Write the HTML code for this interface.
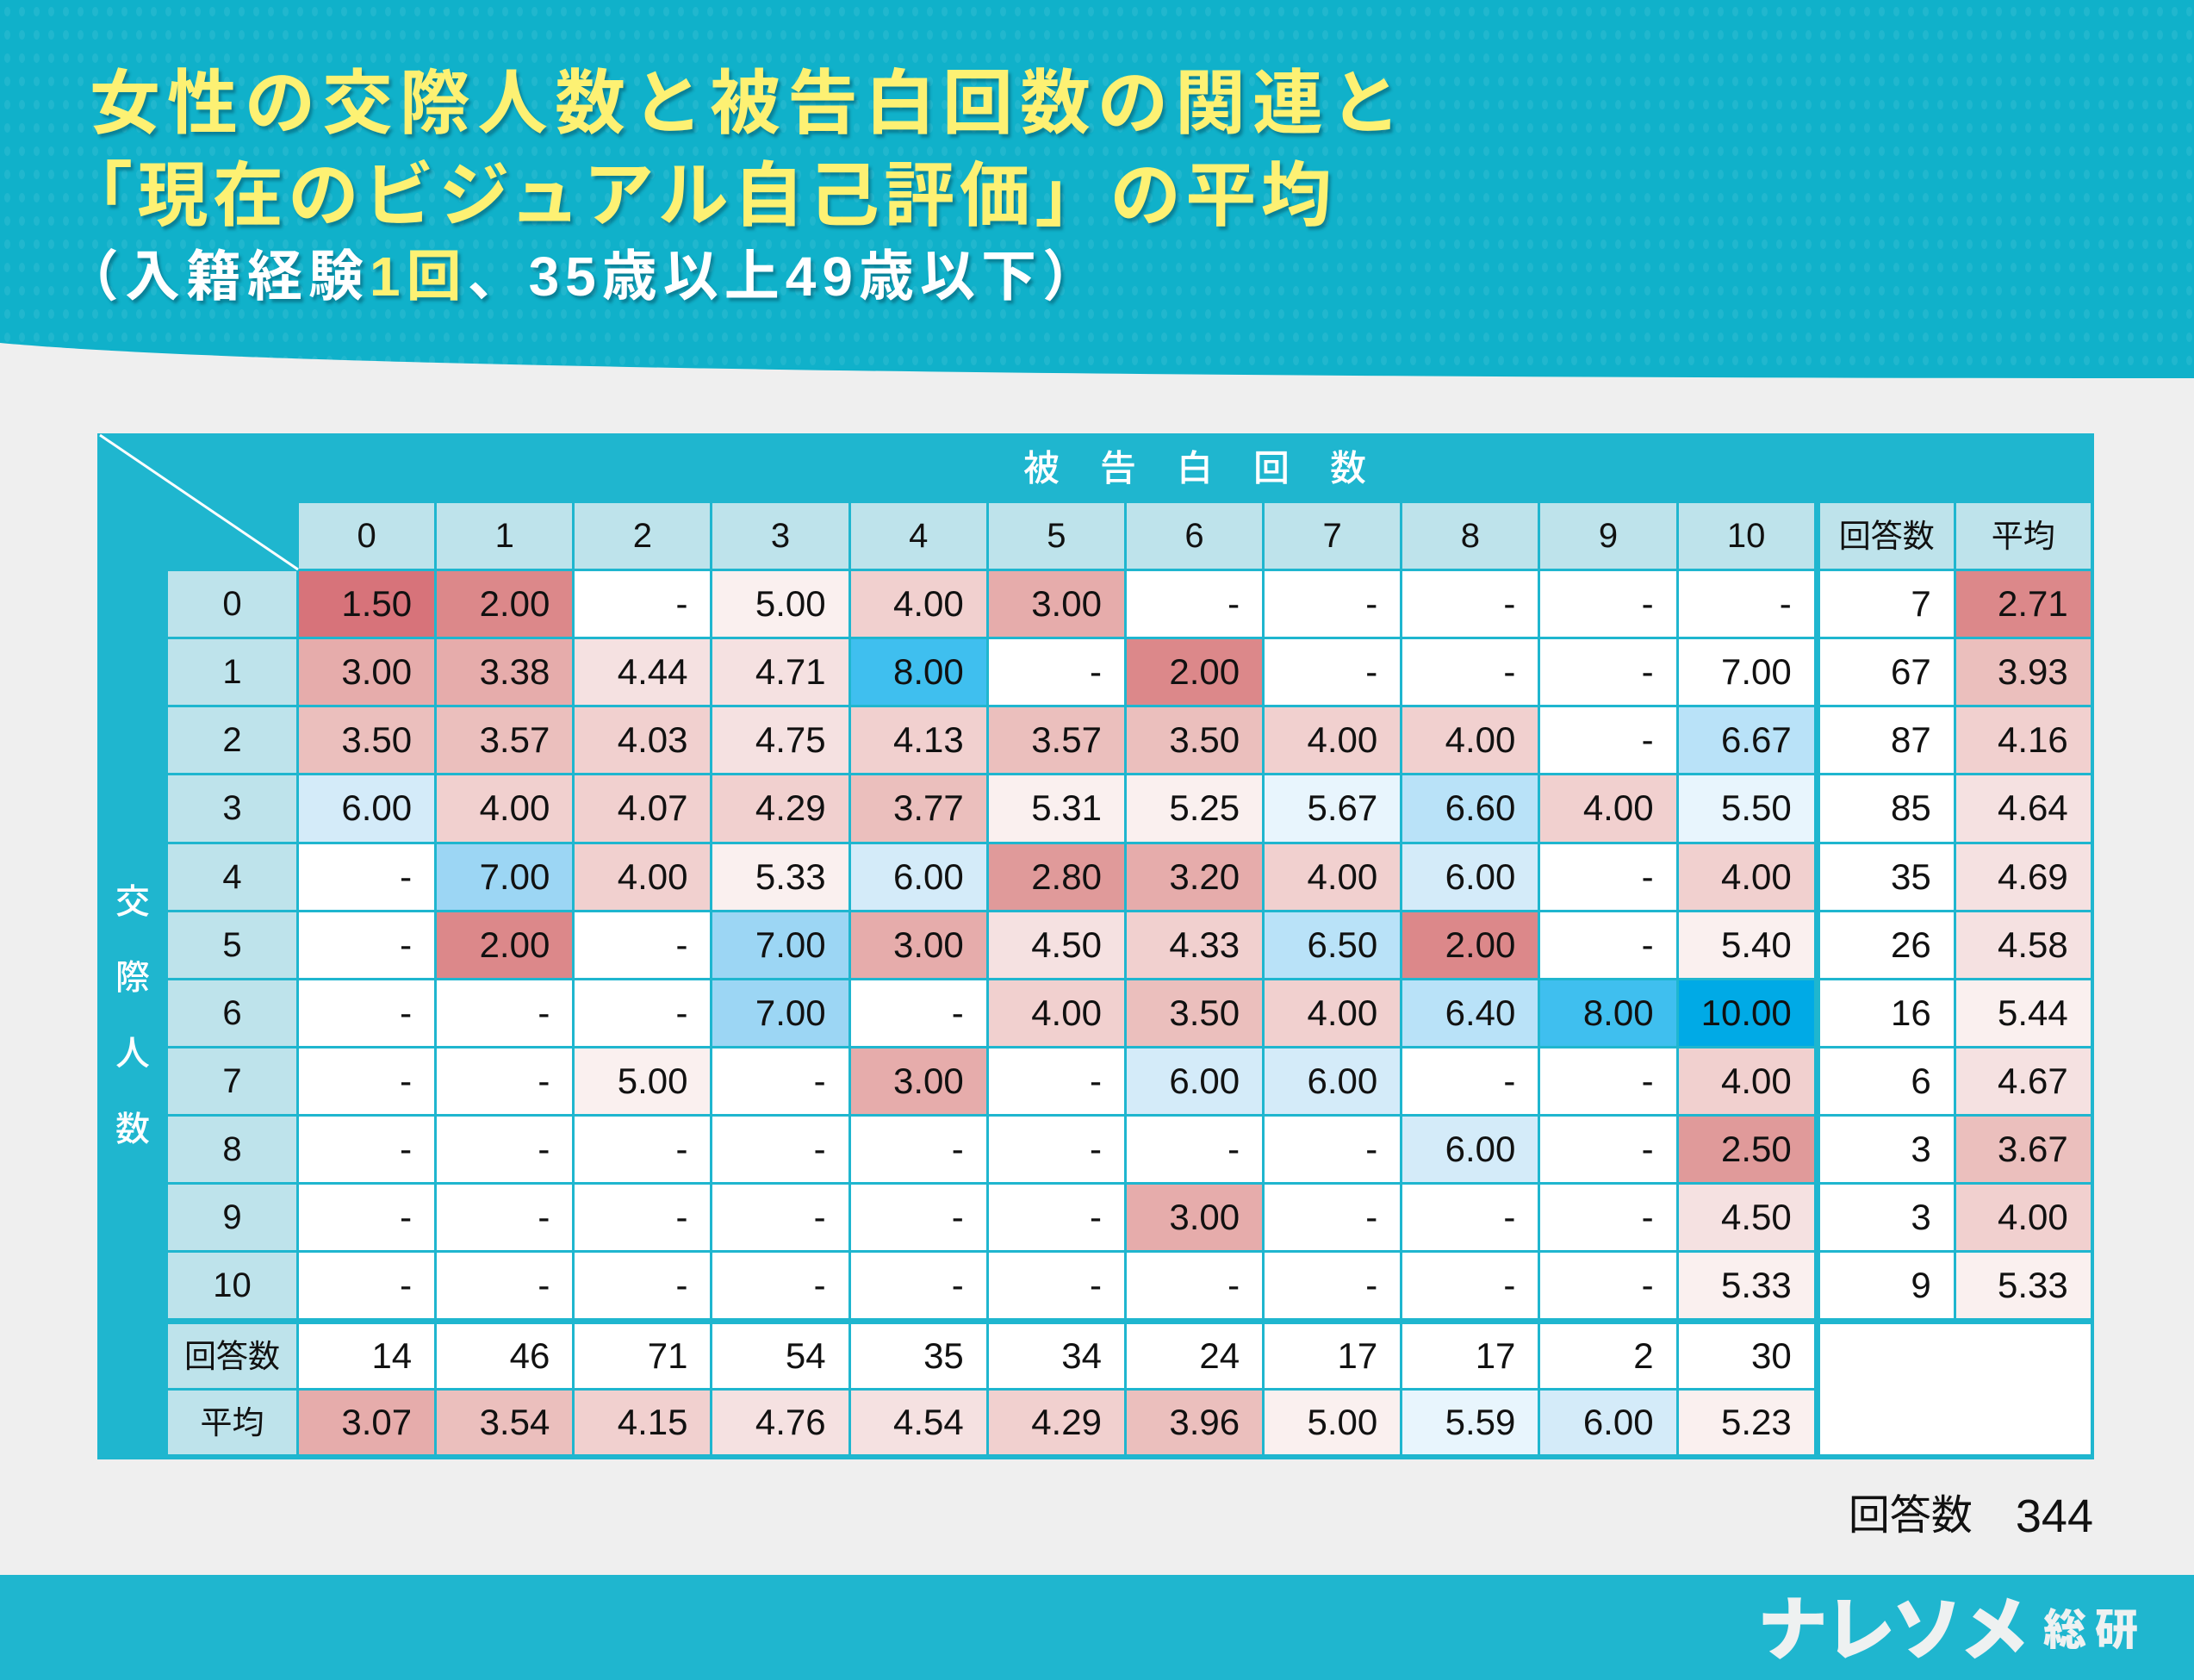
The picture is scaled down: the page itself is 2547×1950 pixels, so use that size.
<!DOCTYPE html>
<html lang="ja">
<head>
<meta charset="utf-8">
<style>
*{margin:0;padding:0;box-sizing:border-box}
html,body{width:2547px;height:1950px;overflow:hidden;background:#efefef}
body{position:relative;font-family:"Liberation Sans","Noto Sans CJK JP",sans-serif}
.abs{position:absolute}
.t1{position:absolute;left:104px;font:700 82px/82px "Liberation Sans","Noto Sans CJK JP",sans-serif;color:#fdf173;letter-spacing:8px;white-space:nowrap;text-shadow:3px 4px 3px rgba(0,70,90,0.45)}
.t3{position:absolute;left:104px;font:700 64px/64px "Liberation Sans","Noto Sans CJK JP",sans-serif;color:#fff;white-space:nowrap;text-shadow:3px 4px 3px rgba(0,70,90,0.45)}
.y{color:#fdf173}
.frame{position:absolute;left:113px;top:503px;width:2318px;height:1191px;background:#1fb6cf}
.g{position:absolute;left:82px;top:81px;display:grid;grid-template-columns:149px repeat(11,157.17px) 1px 155px 156px;grid-template-rows:76px repeat(11,76.13px) 1px 74px 74px;gap:3px}
.g>div{background:#fff;font:42px/1 "Liberation Sans",sans-serif;color:#111;display:flex;align-items:center;justify-content:flex-end;padding-right:26px}
.g>div.h{background:#bee3eb;justify-content:center;padding:0;font-size:40px}
.g>div.j{font-family:"Liberation Sans","Noto Sans CJK JP",sans-serif;font-size:37px}
.g>div.t{background:transparent}
.g>div.sp{grid-column:1/-1;background:transparent}
.g>div.blk{grid-column:span 2;grid-row:span 2;background:#fff}
.g>div.r1{background:#d7737a}
.g>div.r2{background:#dc888a}
.g>div.r25{background:#e09a9a}
.g>div.r3{background:#e6acab}
.g>div.r35{background:#ebbfbd}
.g>div.r4{background:#f1d0cf}
.g>div.r45{background:#f5e1e1}
.g>div.r5{background:#faf0ef}
.g>div.b55{background:#e8f5fd}
.g>div.b6{background:#d4ebf9}
.g>div.b65{background:#b9e2f8}
.g>div.b7{background:#9cd6f4}
.g>div.b8{background:#3fbfef}
.g>div.b10{background:#00aae6}
.hdr{position:absolute;left:234px;top:0;width:2080px;height:81px;line-height:81px;text-align:center;color:#fff;font:500 42px/81px "Liberation Sans","Noto Sans CJK JP",sans-serif;letter-spacing:47px;padding-left:47px}
.vl{position:absolute;left:0;top:500px;width:82px;text-align:center;color:#fff;font:500 40px/88px "Liberation Sans","Noto Sans CJK JP",sans-serif}
</style>
</head>
<body>
<svg class="abs" style="left:0;top:0" width="2547" height="460" viewBox="0 0 2547 460">
<defs>
<pattern id="dots" width="17" height="27" patternUnits="userSpaceOnUse">
<ellipse cx="8.5" cy="13.5" rx="3.5" ry="5.5" fill="#ffffff" fill-opacity="0.07"/>
</pattern>
</defs>
<path d="M0 0 H2547 V439 C1500 439 350 430 0 398 Z" fill="#10b1ca"/>
<path d="M0 0 H2547 V439 C1500 439 350 430 0 398 Z" fill="url(#dots)"/>
</svg>

<div class="t1" style="top:80px">女性の交際人数と被告白回数の関連と</div>
<div class="t1" style="top:187px;left:72px;letter-spacing:5.5px">「現在のビジュアル自己評価」の平均</div>
<div class="t3" style="top:289px;left:74px;letter-spacing:7px">（入籍経験<span class="y">1回</span>、35歳以上49歳以下）</div>

<div class="frame">
<svg class="abs" style="left:0;top:0" width="240" height="165"><line x1="3" y1="2" x2="233" y2="158" stroke="#fff" stroke-width="3"/></svg>
<div class="hdr">被告白回数</div>
<div class="vl" style="top:500px">交<br>際<br>人<br>数</div>
<div class="g">
<div class="t"></div><div class="h">0</div><div class="h">1</div><div class="h">2</div><div class="h">3</div><div class="h">4</div><div class="h">5</div><div class="h">6</div><div class="h">7</div><div class="h">8</div><div class="h">9</div><div class="h">10</div><div class="t"></div><div class="h j">回答数</div><div class="h j">平均</div>

<div class="h">0</div><div class="r1">1.50</div><div class="r2">2.00</div><div>-</div><div class="r5">5.00</div><div class="r4">4.00</div><div class="r3">3.00</div><div>-</div><div>-</div><div>-</div><div>-</div><div>-</div><div class="t"></div><div>7</div><div class="r2">2.71</div>

<div class="h">1</div><div class="r3">3.00</div><div class="r3">3.38</div><div class="r45">4.44</div><div class="r45">4.71</div><div class="b8">8.00</div><div>-</div><div class="r2">2.00</div><div>-</div><div>-</div><div>-</div><div>7.00</div><div class="t"></div><div>67</div><div class="r35">3.93</div>

<div class="h">2</div><div class="r35">3.50</div><div class="r35">3.57</div><div class="r4">4.03</div><div class="r45">4.75</div><div class="r4">4.13</div><div class="r35">3.57</div><div class="r35">3.50</div><div class="r4">4.00</div><div class="r4">4.00</div><div>-</div><div class="b65">6.67</div><div class="t"></div><div>87</div><div class="r4">4.16</div>

<div class="h">3</div><div class="b6">6.00</div><div class="r4">4.00</div><div class="r4">4.07</div><div class="r4">4.29</div><div class="r35">3.77</div><div class="r5">5.31</div><div class="r5">5.25</div><div class="b55">5.67</div><div class="b65">6.60</div><div class="r4">4.00</div><div class="b55">5.50</div><div class="t"></div><div>85</div><div class="r45">4.64</div>

<div class="h">4</div><div>-</div><div class="b7">7.00</div><div class="r4">4.00</div><div class="r5">5.33</div><div class="b6">6.00</div><div class="r25">2.80</div><div class="r3">3.20</div><div class="r4">4.00</div><div class="b6">6.00</div><div>-</div><div class="r4">4.00</div><div class="t"></div><div>35</div><div class="r45">4.69</div>

<div class="h">5</div><div>-</div><div class="r2">2.00</div><div>-</div><div class="b7">7.00</div><div class="r3">3.00</div><div class="r45">4.50</div><div class="r4">4.33</div><div class="b65">6.50</div><div class="r2">2.00</div><div>-</div><div class="r5">5.40</div><div class="t"></div><div>26</div><div class="r45">4.58</div>

<div class="h">6</div><div>-</div><div>-</div><div>-</div><div class="b7">7.00</div><div>-</div><div class="r4">4.00</div><div class="r35">3.50</div><div class="r4">4.00</div><div class="b65">6.40</div><div class="b8">8.00</div><div class="b10">10.00</div><div class="t"></div><div>16</div><div class="r5">5.44</div>

<div class="h">7</div><div>-</div><div>-</div><div class="r5">5.00</div><div>-</div><div class="r3">3.00</div><div>-</div><div class="b6">6.00</div><div class="b6">6.00</div><div>-</div><div>-</div><div class="r4">4.00</div><div class="t"></div><div>6</div><div class="r45">4.67</div>

<div class="h">8</div><div>-</div><div>-</div><div>-</div><div>-</div><div>-</div><div>-</div><div>-</div><div>-</div><div class="b6">6.00</div><div>-</div><div class="r25">2.50</div><div class="t"></div><div>3</div><div class="r35">3.67</div>

<div class="h">9</div><div>-</div><div>-</div><div>-</div><div>-</div><div>-</div><div>-</div><div class="r3">3.00</div><div>-</div><div>-</div><div>-</div><div class="r45">4.50</div><div class="t"></div><div>3</div><div class="r4">4.00</div>

<div class="h">10</div><div>-</div><div>-</div><div>-</div><div>-</div><div>-</div><div>-</div><div>-</div><div>-</div><div>-</div><div>-</div><div class="r5">5.33</div><div class="t"></div><div>9</div><div class="r5">5.33</div>

<div class="sp"></div>

<div class="h j">回答数</div><div>14</div><div>46</div><div>71</div><div>54</div><div>35</div><div>34</div><div>24</div><div>17</div><div>17</div><div>2</div><div>30</div><div class="t"></div><div class="blk"></div>

<div class="h j">平均</div><div class="r3">3.07</div><div class="r35">3.54</div><div class="r4">4.15</div><div class="r45">4.76</div><div class="r45">4.54</div><div class="r4">4.29</div><div class="r35">3.96</div><div class="r5">5.00</div><div class="b55">5.59</div><div class="b6">6.00</div><div class="r5">5.23</div><div class="t"></div>
</div>
</div>

<div class="abs" style="right:117px;top:1720px;height:80px;line-height:80px;white-space:nowrap;color:#111">
<span style="font:48px/80px 'Liberation Sans','Noto Sans CJK JP',sans-serif;vertical-align:top">回答数</span><span style="font:54px/80px 'Liberation Sans',sans-serif;margin-left:50px;vertical-align:top">344</span>
</div>

<div class="abs" style="left:0;top:1828px;width:2547px;height:122px;background:#1fb6cf"></div>
<div class="abs" style="left:2040px;top:1848px;height:90px;line-height:90px;white-space:nowrap;color:#eef1f1;font:900 82px/90px 'Liberation Sans','Noto Sans CJK JP',sans-serif;letter-spacing:-4px">ナレソメ</div>
<div class="abs" style="left:2372px;top:1862px;height:60px;white-space:nowrap;color:#eef1f1;font:900 50px/60px 'Liberation Sans','Noto Sans CJK JP',sans-serif;letter-spacing:10px">総研</div>
</body>
</html>
